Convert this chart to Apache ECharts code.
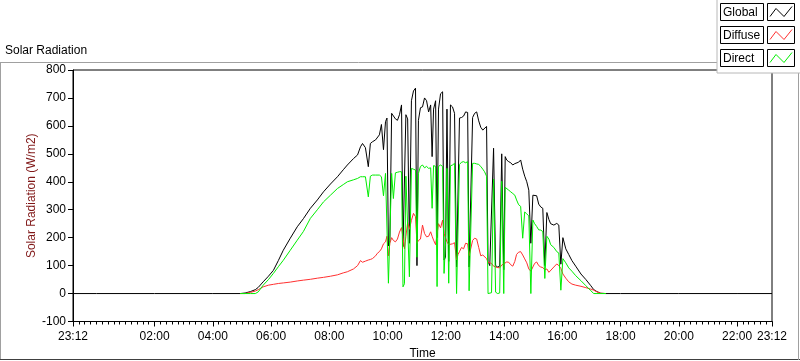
<!DOCTYPE html>
<html>
<head>
<meta charset="utf-8">
<script src="https://cdn.jsdelivr.net/npm/echarts@6.0.0/dist/echarts.min.js"></script>
<style>
html,body{margin:0;padding:0;background:#fff;}
#chart{width:800px;height:361px;}
</style>
</head>
<body>
<div id="chart"></div>
<script>
// Time in decimal hours (23:12 of the previous day = -0.8)
var times = [
 -0.8, 0, 2, 4, 4.94, 5.11, 5.29, 5.46, 5.56, 5.73, 5.91, 6.08, 6.25, 6.42, 6.66, 6.90,
 7.11, 7.35, 7.59, 7.80, 8.04, 8.28, 8.48, 8.62, 8.83, 8.97, 9.07, 9.14, 9.24, 9.34, 9.41,
 9.48, 9.59, 9.65, 9.72, 9.79, 9.86, 9.93, 9.98, 10.03, 10.08, 10.14, 10.20, 10.27, 10.34,
 10.41, 10.48, 10.53, 10.58, 10.63, 10.69, 10.75, 10.82, 10.89, 10.96, 11.01, 11.06, 11.13,
 11.20, 11.27, 11.34, 11.41, 11.48, 11.53, 11.58, 11.65, 11.70, 11.75, 11.82, 11.89, 11.94,
 11.99, 12.04, 12.10, 12.16, 12.23, 12.30, 12.37, 12.42, 12.47, 12.54, 12.61, 12.68, 12.75,
 12.80, 12.85, 12.92, 12.99, 13.06, 13.13, 13.20, 13.27, 13.33, 13.40, 13.45, 13.51, 13.57,
 13.64, 13.71, 13.78, 13.85, 13.92, 13.99, 14.04, 14.09, 14.16, 14.23, 14.30, 14.37, 14.43,
 14.50, 14.57, 14.64, 14.71, 14.78, 14.85, 14.92, 14.99, 15.05, 15.12, 15.19, 15.26, 15.33,
 15.40, 15.47, 15.54, 15.60, 15.71, 15.81, 15.88, 15.95, 16.02, 16.12, 16.22, 16.33, 16.46,
 16.64, 16.81, 16.98, 17.08, 17.19, 17.32, 17.50, 18, 20, 22, 23.2
];
var globalVals = [
 0, 0, 0, 0, 0, 2, 7, 14, 22, 42, 62, 83, 118, 155, 198, 239,
 268, 305, 335, 364, 392, 418, 443, 460, 483, 496, 525, 537, 522, 454, 537,
 543, 550, 555, 568, 605, 515, 615, 628, 170, 190, 645, 638, 625, 620,
 640, 675, 168, 165, 640, 625, 180, 690, 725, 735, 100, 620, 665,
 668, 700, 690, 650, 675, 490, 660, 690, 200, 660, 715, 722, 120,
 130, 660, 115, 675, 668, 645, 95, 100, 628, 630, 635, 650, 648,
 95, 100, 630, 645, 650, 618, 595, 585, 582, 598, 115, 100, 95,
 520, 100, 95, 98, 500, 85, 490, 478, 472, 468, 460, 465, 466,
 470, 478, 445, 420, 400, 370, 180, 352, 355, 350, 320, 310, 305,
 100, 290, 265, 250, 245, 251, 245, 105, 200, 160, 140, 118, 98,
 70, 50, 28, 14, 7, 1, 0, 0, 0, 0, 0
];
var diffuseVals = [
 null, null, null, null, 0, 0, 4, 9, 14, 24, 30, 33, 36, 38, 41, 45,
 48, 51, 55, 58, 62, 67, 74, 78, 88, 100, 118, 112, 116, 120, 122,
 125, 135, 144, 150, 160, 178, 185, 205, 135, 180, 200, 190, 185, 195,
 220, 236, 200, 160, 205, 255, 230, 262, 287, 275, 180, 190, 195,
 245, 215, 203, 205, 221, 205, 191, 175, 180, 250, 235, 263, 215,
 200, 185, 175, 180, 178, 182, 120, 140, 150, 165, 160, 180, 178,
 135, 140, 190, 198, 195, 165, 135, 138, 145, 125, 112, 115, 108,
 98, 95, 93, 92, 102, 106, 110, 113, 112, 103, 98, 115, 140,
 148, 150, 138, 124, 110, 88, 80, 95, 108, 113, 100, 95, 93,
 85, 88, 76, 74, 95, 106, 100, 90, 70, 55, 42, 34, 30,
 26, 21, 16, 12, 6, 1, 0, null, null, null, null
];
var directVals = [
 null, null, null, null, 0, 0, 0, 0, 6, 30, 50, 72, 96, 119, 155, 191,
 222, 269, 300, 328, 352, 376, 390, 400, 407, 412, 418, 418, 418, 346, 420,
 424, 424, 424, 424, 418, 350, 430, 436, 37, 40, 430, 340, 432, 434,
 436, 436, 24, 35, 420, 418, 60, 448, 445, 442, 130, 430, 455,
 460, 450, 455, 448, 450, 305, 458, 455, 25, 455, 460, 455, 72,
 180, 448, 37, 457, 460, 466, 0, 5, 462, 470, 472, 468, 472,
 10, 5, 466, 466, 464, 462, 455, 445, 436, 420, 0, 0, 3,
 410, 5, 0, 2, 402, 0, 380, 382, 370, 364, 358, 352, 335,
 318, 312, 198, 292, 285, 278, 0, 263, 250, 240, 228, 227, 222,
 54, 205, 195, 175, 165, 150, 145, 12, 125, 110, 92, 80, 64,
 46, 28, 10, 0, 0, 0, 0, null, null, null, null
];
var seriesNames = ['Global', 'Diffuse', 'Direct'];
var seriesColors = ['#000000', '#ff3030', '#00ee00'];
var majorTicks = [-0.8, 2, 4, 6, 8, 10, 12, 14, 16, 18, 20, 22, 23.2];
var yMin = -100, yMax = 800, yStep = 100;

function pad(n){ return (n < 10 ? '0' : '') + n; }
function fmtTime(v){
  var h = v < 0 ? v + 24 : v;
  var hh = Math.floor(h + 1e-6);
  var mm = Math.round((h - hh) * 60);
  if (mm === 60) { hh += 1; mm = 0; }
  return pad(hh) + ':' + pad(mm);
}
var minorTicks = [];
for (var i = 0; i <= 120; i++) {
  minorTicks.push(Math.round((-0.8 + i * 0.2) * 10) / 10);
}
function pairs(vals){
  return times.map(function(t, k){ return [t, vals[k]]; });
}
var allVals = [globalVals, diffuseVals, directVals];
var FONT = 'Liberation Sans';

var chart = echarts.init(document.getElementById('chart'), null, {renderer: 'canvas'});

var legendGraphics = [
  {type: 'rect', z: 100, shape: {x: 717, y: -1, width: 84, height: 74},
   style: {fill: '#ffffff', stroke: '#b8b8b8', lineWidth: 1}}
];
seriesNames.forEach(function(name, i){
  var y0 = 3.5 + i * 23;
  legendGraphics.push({type: 'rect', z: 101, shape: {x: 720.5, y: y0, width: 43, height: 17},
    style: {fill: '#ffffff', stroke: '#000000', lineWidth: 1}});
  legendGraphics.push({type: 'text', z: 102, x: 723, y: y0 + 9,
    style: {text: name, fill: '#000', font: '12px "' + FONT + '"', textVerticalAlign: 'middle'}});
  legendGraphics.push({type: 'rect', z: 101, shape: {x: 767.5, y: y0, width: 27, height: 17},
    style: {fill: '#ffffff', stroke: '#000000', lineWidth: 1}});
  legendGraphics.push({type: 'polyline', z: 102,
    shape: {points: [[770, y0 + 13], [776, y0 + 5], [784, y0 + 13], [792, y0 + 3]]},
    style: {stroke: seriesColors[i], lineWidth: 1, fill: null}});
});

var frameGraphics = [
  {type: 'line', z: 50, shape: {x1: 0, y1: 62.5, x2: 717, y2: 62.5}, style: {stroke: '#a0a0a0', lineWidth: 1}},
  {type: 'line', z: 50, shape: {x1: 0.5, y1: 62, x2: 0.5, y2: 360}, style: {stroke: '#a0a0a0', lineWidth: 1}},
  {type: 'line', z: 50, shape: {x1: 0, y1: 359.5, x2: 800, y2: 359.5}, style: {stroke: '#404040', lineWidth: 1}},
  {type: 'line', z: 50, shape: {x1: 798.5, y1: 73, x2: 798.5, y2: 360}, style: {stroke: '#a0a0a0', lineWidth: 1}},
  {type: 'text', z: 50, x: 5, y: 51,
   style: {text: 'Solar Radiation', fill: '#000', font: '12px "' + FONT + '"', textVerticalAlign: 'middle'}}
];

var option = {
  animation: false,
  backgroundColor: '#ffffff',
  textStyle: {fontFamily: FONT},
  grid: {left: 73, right: 28, top: 70, bottom: 39.5, show: true, borderColor: '#000', borderWidth: 1,
         backgroundColor: '#fff', containLabel: false, outerBoundsMode: 'none'},
  xAxis: [
    {
      type: 'value', min: -0.8, max: 23.2, position: 'bottom',
      name: 'Time', nameLocation: 'middle', nameGap: 26, nameMoveOverlap: false,
      nameTextStyle: {color: '#000', fontSize: 12, fontFamily: FONT},
      axisLine: {show: true, onZero: false, lineStyle: {color: '#000', width: 1}},
      axisTick: {show: true, inside: false, length: 5, customValues: majorTicks, lineStyle: {color: '#000'}},
      axisLabel: {show: true, customValues: majorTicks, formatter: fmtTime, color: '#000', fontSize: 12, fontFamily: FONT, margin: 9, showMinLabel: true, showMaxLabel: true, hideOverlap: false},
      splitLine: {show: false}
    },
    {
      type: 'value', min: -0.8, max: 23.2, position: 'bottom', gridIndex: 0,
      axisLine: {show: false, onZero: false},
      axisTick: {show: true, inside: false, length: 3, customValues: minorTicks, lineStyle: {color: '#000'}},
      axisLabel: {show: false},
      splitLine: {show: false}
    }
  ],
  yAxis: {
    type: 'value', min: yMin, max: yMax, interval: yStep,
    name: 'Solar Radiation (W/m2)', nameLocation: 'middle', nameGap: 35, nameRotate: 90, nameMoveOverlap: false,
    nameTextStyle: {color: '#801818', fontSize: 12, fontFamily: FONT},
    axisLine: {show: true, onZero: false, lineStyle: {color: '#000', width: 1}},
    axisTick: {show: true, inside: false, length: 5, lineStyle: {color: '#000'}},
    axisLabel: {color: '#000', fontSize: 12, fontFamily: FONT, margin: 7},
    splitLine: {show: false}
  },
  series: seriesNames.map(function(name, i){
    return {
      name: name, type: 'line', xAxisIndex: 0, data: pairs(allVals[i]),
      showSymbol: false, symbol: 'none', connectNulls: false, sampling: null,
      lineStyle: {color: seriesColors[i], width: 1},
      itemStyle: {color: seriesColors[i]},
      emphasis: {disabled: true}, silent: true
    };
  }),
  graphic: frameGraphics.concat(legendGraphics)
};
chart.setOption(option);
</script>
</body>
</html>
